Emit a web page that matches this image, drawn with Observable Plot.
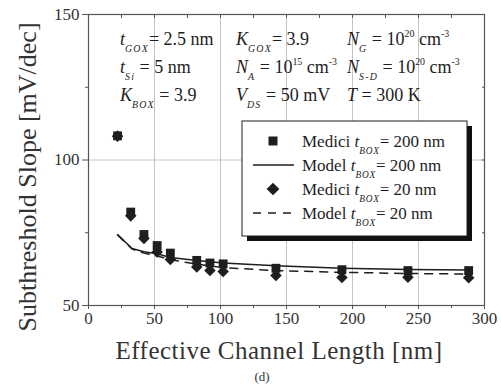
<!DOCTYPE html>
<html><head><meta charset="utf-8">
<script src="https://cdn.jsdelivr.net/npm/d3@7"></script>
<script src="https://cdn.jsdelivr.net/npm/@observablehq/plot@0.6"></script>
<style>
body{margin:0;background:#fff}
</style>
</head><body><div id="chart"></div>
<script>
// ---- data ----
const lengths   = [22, 32, 42, 52, 62, 82, 92, 102, 142, 192, 242, 288];
const medici200 = [108.3, 82.1, 74.4, 70.6, 68.0, 65.5, 64.6, 64.3, 62.8, 62.3, 62.0, 62.0];
const medici20  = [108.2, 80.8, 73.0, 68.4, 65.8, 63.2, 62.0, 61.7, 60.3, 59.6, 59.7, 59.5];
const modelX    = [22, 33, 42, 52, 62, 82, 102, 142, 192, 242, 288];
const model200  = [74.4, 69.6, 68.5, 67.8, 66.5, 65.5, 64.6, 63.7, 62.8, 62.4, 62.2];
const model20   = [74.2, 69.4, 68.0, 67.0, 65.8, 64.2, 63.0, 62.0, 61.4, 61.0, 60.8];
const xTicks = [0, 50, 100, 150, 200, 250, 300];
const yTicks = [50, 100, 150];
const xGrid = [50, 100, 150, 200, 250];
const yGrid = [100];
const xMinor = [25, 75, 125, 175, 225, 275];
const yMinor = [75, 125];
const xAll = [25, 50, 75, 100, 125, 150, 175, 200, 225, 250, 275];
const yAll = [75, 100, 125];
const xLabel = "Effective Channel Length [nm]";
const yLabel = "Subthreshold Slope [mV/dec]";
const panelLabel = "(d)";
const legendLabels = [
  ["Medici ", "t", "BOX", "= 200 nm"],
  ["Model ", "t", "BOX", "= 200 nm"],
  ["Medici ", "t", "BOX", "= 20 nm"],
  ["Model ", "t", "BOX", "= 20 nm"]
];

const pts200 = lengths.map((x, i) => ({x, y: medici200[i]}));
const pts20  = lengths.map((x, i) => ({x, y: medici20[i]}));
const line200 = modelX.map((x, i) => ({x, y: model200[i]}));
const line20  = modelX.map((x, i) => ({x, y: model20[i]}));

const ink = "#1e1e1e";
const txt = "#333";
const FONT = "'Liberation Serif', 'Times New Roman', serif";

const plot = Plot.plot({
  width: 501, height: 385,
  marginLeft: 88, marginRight: 17, marginTop: 14, marginBottom: 80,
  style: {fontFamily: FONT, background: "#fff"},
  x: {domain: [0, 300]},
  y: {domain: [50, 150]},
  marks: [
    Plot.ruleX(xGrid, {stroke: "#c4c4c4", strokeWidth: 1}),
    Plot.ruleY(yGrid, {stroke: "#c4c4c4", strokeWidth: 1}),
    Plot.axisX(xTicks, {anchor: "bottom", tickSize: 4, tickPadding: 2, fontSize: 17, fill: txt, stroke: "#555", label: null}),
    Plot.axisY(yTicks, {anchor: "left", tickSize: 6, tickPadding: 3, fontSize: 17, fill: txt, stroke: "#555", label: null}),
    Plot.axisX(xMinor, {anchor: "bottom", tickSize: 3, text: null, stroke: "#555", label: null}),
    Plot.axisY(yMinor, {anchor: "left", tickSize: 3, text: null, stroke: "#555", label: null}),
    Plot.axisX(xAll, {anchor: "top", tickSize: -3, text: null, stroke: "#555", label: null}),
    Plot.axisY(yAll, {anchor: "right", tickSize: -3, text: null, stroke: "#555", label: null}),
    Plot.frame({stroke: "#555", strokeWidth: 1.2}),
    Plot.line(line200, {x: "x", y: "y", stroke: ink, strokeWidth: 1.5}),
    Plot.line(line20, {x: "x", y: "y", stroke: ink, strokeWidth: 1.5, strokeDasharray: "8,7"}),
    Plot.dot(pts200, {x: "x", y: "y", symbol: "square", r: 5.0, fill: ink, stroke: "none"}),
    Plot.dot(pts20, {x: "x", y: "y", symbol: "square", rotate: 45, r: 4.6, fill: ink, stroke: "none"})
  ]
});

const svg = d3.select(plot);

// axis labels
svg.append("text").attr("x", 279).attr("y", 359).attr("text-anchor", "middle").attr("font-family", FONT)
  .attr("font-size", 25).attr("fill", txt).attr("letter-spacing", 0.5).text(xLabel);
svg.append("text").attr("text-anchor", "middle").attr("font-size", 26).attr("fill", txt).attr("font-family", FONT)
  .attr("transform", "translate(36,177) rotate(-90)").text(yLabel);
svg.append("text").attr("x", 262).attr("y", 381).attr("text-anchor", "middle").attr("font-family", FONT)
  .attr("font-size", 13).attr("fill", txt).text(panelLabel);

// rich text helper
function rich(x, y, segs, size, subSpacing) {
  const t = svg.append("text").attr("x", x).attr("y", y).attr("font-size", size).attr("fill", ink)
    .attr("text-anchor", "start").attr("font-family", FONT);
  let shift = 0;
  segs.forEach(s => {
    const sp = t.append("tspan").text(s.t);
    let target = 0;
    if (s.k === "i") sp.attr("font-style", "italic");
    if (s.k === "sub") { target = 7; sp.attr("font-size", size * 0.55).attr("font-style", "italic").attr("letter-spacing", subSpacing); }
    if (s.k === "sup") { target = -8; sp.attr("font-size", size * 0.55); }
    sp.attr("dy", target - shift);
    shift = target;
  });
  return t;
}

const fs = 18;
const rowsY = [45, 73, 101];
const colX = [120, 236, 347];
const N = (t) => ({t, k: "n"}), I = (t) => ({t, k: "i"}), SB = (t) => ({t, k: "sub"}), SP = (t) => ({t, k: "sup"});
rich(colX[0], rowsY[0], [I("t"), SB("GOX"), N("= 2.5 nm")], fs, 1.2);
rich(colX[1], rowsY[0], [I("K"), SB("GOX"), N("= 3.9")], fs, 1.2);
rich(colX[2], rowsY[0], [I("N"), SB("G"), N(" = 10"), SP("20"), N(" cm"), SP("-3")], fs, 1.2);
rich(colX[0], rowsY[1], [I("t"), SB("Si"), N(" = 5 nm")], fs, 1.2);
rich(colX[1], rowsY[1], [I("N"), SB("A"), N(" = 10"), SP("15"), N(" cm"), SP("-3")], fs, 1.2);
rich(colX[2], rowsY[1], [I("N"), SB("S-D"), N(" = 10"), SP("20"), N(" cm"), SP("-3")], fs, 1.2);
rich(colX[0], rowsY[2], [I("K"), SB("BOX"), N(" = 3.9")], fs, 1.2);
rich(colX[1], rowsY[2], [I("V"), SB("DS"), N(" = 50 mV")], fs, 1.2);
rich(colX[2], rowsY[2], [I("T"), N(" = 300 K")], fs, 1.2);

// legend
const lg = svg.append("g");
lg.append("rect").attr("x", 247).attr("y", 126).attr("width", 225).attr("height", 115).attr("fill", "#111");
lg.append("rect").attr("x", 242).attr("y", 121).attr("width", 225).attr("height", 115).attr("fill", "#fff").attr("stroke", ink).attr("stroke-width", 1);
const ly = [141, 165, 189, 213];
lg.append("rect").attr("x", 268.5).attr("y", ly[0] - 4.5).attr("width", 9).attr("height", 9).attr("fill", ink);
lg.append("line").attr("x1", 253).attr("x2", 294).attr("y1", ly[1]).attr("y2", ly[1]).attr("stroke", ink).attr("stroke-width", 1.5);
lg.append("rect").attr("x", 268.5).attr("y", ly[2] - 4.5).attr("width", 9).attr("height", 9).attr("fill", ink)
  .attr("transform", `rotate(45,273,${ly[2]})`);
lg.append("line").attr("x1", 253).attr("x2", 294).attr("y1", ly[3]).attr("y2", ly[3]).attr("stroke", ink).attr("stroke-width", 1.5).attr("stroke-dasharray", "8,7");
legendLabels.forEach((L, i) => {
  rich(302, ly[i] + 6, [N(L[0]), I(L[1]), SB(L[2]), N(L[3])], 17, 0.8);
});

document.getElementById("chart").appendChild(plot);
</script>
</body></html>
